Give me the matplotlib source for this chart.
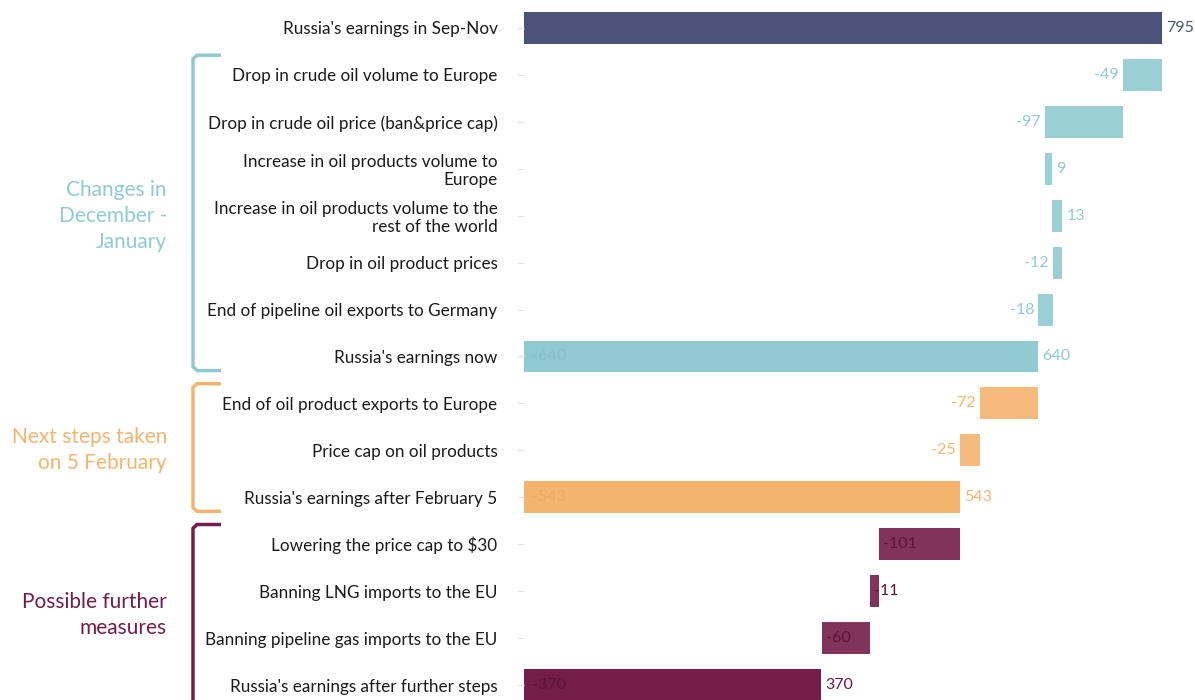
import matplotlib
matplotlib.use("Agg")
import matplotlib.pyplot as plt
from matplotlib.transforms import blended_transform_factory

plt.rcParams['font.family'] = ['Lato', 'DejaVu Sans']

# --- data ---
labels = [
    "Russia's earnings in Sep-Nov",
    "Drop in crude oil volume to Europe",
    "Drop in crude oil price (ban&price cap)",
    "Increase in oil products volume to\nEurope",
    "Increase in oil products volume to the\nrest of the world",
    "Drop in oil product prices",
    "End of pipeline oil exports to Germany",
    "Russia's earnings now",
    "End of oil product exports to Europe",
    "Price cap on oil products",
    "Russia's earnings after February 5",
    "Lowering the price cap to $30",
    "Banning LNG imports to the EU",
    "Banning pipeline gas imports to the EU",
    "Russia's earnings after further steps",
]
values = [795, -49, -97, 9, 13, -12, -18, 640, -72, -25, 543, -101, -11, -60, 370]
is_total = [True, False, False, False, False, False, False, True,
            False, False, True, False, False, False, True]
row_group = ["start"] + ["dec"] * 7 + ["feb"] * 3 + ["further"] * 4

group_titles = {
    "dec": "Changes in\nDecember -\nJanuary",
    "feb": "Next steps taken\non 5 February",
    "further": "Possible further\nmeasures",
}
group_rows = {"dec": (1, 7), "feb": (8, 10), "further": (11, 14)}

# --- style ---
BAR_COLORS = {"start": "#4b5279", "dec": "#8fcad1", "feb": "#f5b46e", "further": "#731d47"}
TEXT_COLORS = {"start": "#4b5279", "dec": "#8fcad1", "feb": "#f5b46e", "further": "#6a1a42"}
INNER_COLORS = {"dec": "#84c1c8", "feb": "#ecab64", "further": "#5e1439"}

W, H = 1195, 700
fig = plt.figure(figsize=(W / 100, H / 100), dpi=100)
ax = fig.add_axes([524 / W, 0, 671 / W, 1])

px_per_unit = 0.8025
ax.set_xlim(0, 671 / px_per_unit)
row_px = 46.93
ax.set_ylim(14 + 15 / row_px, -28 / row_px)

running = 0
for i, (v, tot, g) in enumerate(zip(values, is_total, row_group)):
    if tot:
        left, width = 0, v
        running = v
    else:
        left, width = min(running, running + v), abs(v)
        running += v
    color = BAR_COLORS[g]
    ax.barh(i, width, left=left, height=0.68, color=color,
            alpha=1.0 if tot else 0.9, linewidth=0)

    tcol = TEXT_COLORS[g]
    if tot:
        ax.annotate(f"{v}", (left + width, i), xytext=(3, 0), textcoords="offset points",
                    ha="left", va="center", fontsize=11.5, color=tcol)
        if g != "start":
            ax.annotate(f"-{v}", (0, i), xytext=(6, 0), textcoords="offset points",
                        ha="left", va="center", fontsize=11.5, color=INNER_COLORS[g])
    elif g == "further":
        ax.annotate(f"{v}", (left, i), xytext=(3, 0), textcoords="offset points",
                    ha="left", va="center", fontsize=11.5, color=INNER_COLORS[g])
    elif v < 0:
        ax.annotate(f"{v}", (left, i), xytext=(-3, 0), textcoords="offset points",
                    ha="right", va="center", fontsize=11.5, color=tcol)
    else:
        ax.annotate(f"{v}", (left + width, i), xytext=(3, 0), textcoords="offset points",
                    ha="left", va="center", fontsize=11.5, color=tcol)

ax.set_yticks(range(len(labels)))
ax.set_yticklabels(labels, fontsize=12.3, color="#1a1a1a", linespacing=1.15)
ax.tick_params(axis="y", length=5, color="#e4e4e4", pad=14)
ax.set_xticks([])
for s in ax.spines.values():
    s.set_visible(False)

# group brackets and titles
trans = blended_transform_factory(fig.transFigure, ax.transData)
bx, cap = 193 / W, 221 / W
r = 4 / W
for g, (r0, r1) in group_rows.items():
    top = r0 - 0.42
    col = BAR_COLORS[g]
    if g == "further":
        # runs off the bottom of the figure
        xs = [cap, bx + r, bx, bx]
        ys = [top, top, top + 0.08, r1 + 1.0]
    else:
        bot = r1 + 0.3
        xs = [cap, bx + r, bx, bx, bx + r, cap]
        ys = [top, top, top + 0.08, bot - 0.08, bot, bot]
    ax.plot(xs, ys, transform=trans, color=col, lw=2.5, clip_on=False,
            solid_joinstyle="round", solid_capstyle="butt")
    ax.text(167 / W, (r0 + r1) / 2, group_titles[g], transform=trans,
            ha="right", va="center", fontsize=15,
            color=TEXT_COLORS[g] if g != "further" else "#731d47",
            linespacing=1.38)

fig.savefig("out.png", dpi=100)
